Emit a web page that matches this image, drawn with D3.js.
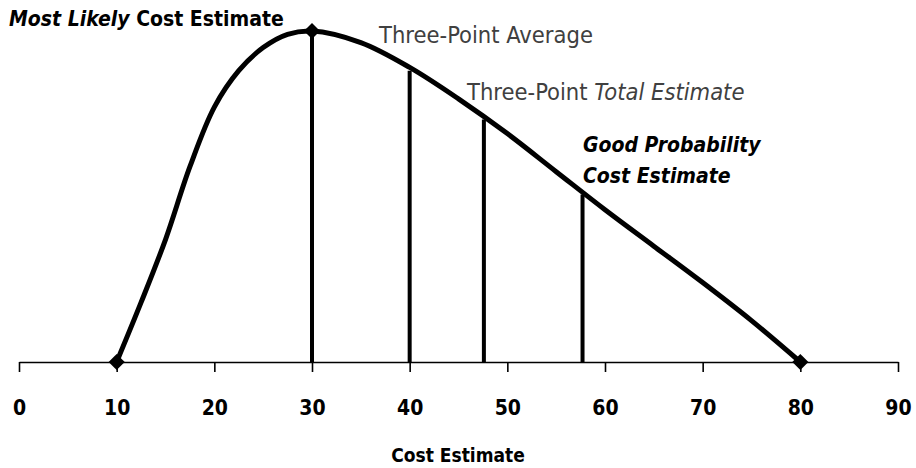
<!DOCTYPE html>
<meta charset="utf-8">
<head>
<style>
body { margin: 0; background: #fff; }
text { font-family: "DejaVu Sans Condensed", "DejaVu Sans", sans-serif; }
.tick text { font-weight: bold; font-size: 21px; fill: #000; }
</style>
</head>
<body>
<svg width="916" height="468"></svg>
<script src="https://d3js.org/d3.v7.min.js"></script>
<script>
// curve (relative height, peak = 1)
let costX = [10, 12.5, 15, 17.5, 20, 22.5, 25, 27.5, 30, 35, 40, 45, 50, 55, 60, 65, 70, 75, 80];
let density = [0, 0.18, 0.37, 0.59, 0.77, 0.88, 0.95, 0.99, 1.0, 0.965, 0.89, 0.795, 0.69, 0.575, 0.46, 0.35, 0.24, 0.125, 0];

// vertical markers
let markerX = [30, 40, 47.6, 57.7];
let markerH = [1.0, 0.88, 0.733, 0.506];

// diamonds: low, most likely, high
let pointX = [10, 30, 80];
let pointY = [0, 1, 0];

let tickValues = [0, 10, 20, 30, 40, 50, 60, 70, 80, 90];

let svg = d3.select('svg');
let x = d3.scaleLinear().domain([0, 90]).range([19, 898]);
let y = d3.scaleLinear().domain([0, 1]).range([362, 31]);

// axis
let axis = svg.append('g')
    .attr('transform', `translate(0, ${y(0)})`)
    .call(d3.axisBottom(x).tickValues(tickValues).tickSize(10).tickSizeOuter(0).tickPadding(28));
axis.select('.domain').attr('stroke', '#000').attr('stroke-width', 1.6);
axis.selectAll('.tick line').attr('stroke', '#000').attr('stroke-width', 1.6);

// vertical lines
svg.selectAll('.marker')
    .data(markerX)
    .enter().append('line')
        .attr('class', 'marker')
        .attr('x1', (d) => x(d))
        .attr('x2', (d) => x(d))
        .attr('y1', y(0))
        .attr('y2', (d, i) => y(markerH[i]))
        .attr('stroke', '#000')
        .attr('stroke-width', 4);

// the curve
let line = d3.line()
    .x((d, i) => x(costX[i]))
    .y((d) => y(d))
    .curve(d3.curveCatmullRom.alpha(0.5));

svg.append('path')
    .datum(density)
    .attr('d', line)
    .attr('fill', 'none')
    .attr('stroke', '#000')
    .attr('stroke-width', 5);

// diamonds
svg.selectAll('.pt')
    .data(pointX)
    .enter().append('path')
        .attr('class', 'pt')
        .attr('d', d3.symbol(d3.symbolSquare, 130))
        .attr('transform', (d, i) => `translate(${x(d)}, ${y(pointY[i])}) rotate(45)`)
        .attr('fill', '#000');

// annotations
let t1 = svg.append('text').attr('x', 9).attr('y', 26)
    .attr('font-size', 21).attr('font-weight', 'bold').attr('fill', '#000');
t1.append('tspan').attr('font-style', 'italic').text('Most Likely');
t1.append('tspan').text(' Cost Estimate');

svg.append('text').attr('x', 379).attr('y', 43)
    .attr('font-size', 23.5).attr('fill', '#404040')
    .text('Three-Point Average');

let t3 = svg.append('text').attr('x', 467).attr('y', 100)
    .attr('font-size', 23.5).attr('fill', '#404040');
t3.append('tspan').text('Three-Point ');
t3.append('tspan').attr('font-style', 'italic').text('Total Estimate');

svg.append('text').attr('x', 583).attr('y', 152)
    .attr('font-size', 21).attr('font-weight', 'bold').attr('font-style', 'italic')
    .text('Good Probability');
svg.append('text').attr('x', 583).attr('y', 183)
    .attr('font-size', 21).attr('font-weight', 'bold').attr('font-style', 'italic')
    .text('Cost Estimate');

// axis title
svg.append('text').attr('x', 458).attr('y', 462)
    .attr('text-anchor', 'middle')
    .attr('font-size', 19).attr('font-weight', 'bold')
    .text('Cost Estimate');
</script>
</body>
</html>
